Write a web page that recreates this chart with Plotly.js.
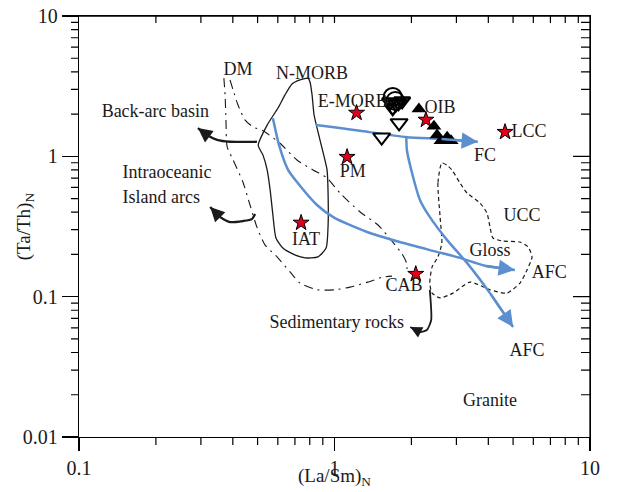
<!DOCTYPE html>
<html>
<head>
<meta charset="utf-8">
<script src="https://cdn.plot.ly/plotly-3.0.1.min.js"></script>
<style>html,body{margin:0;padding:0;background:#fff;}#chart{width:618px;height:492px;}#diag{position:absolute;left:90px;top:380px;font:9px monospace;color:#c00;white-space:pre;}</style>
</head>
<body>
<div id="chart"></div>
<div id="diag"></div>
<script>
// ---------- data ----------
const nmorbX = [0.787,0.733,0.682,0.640,0.601,0.545,0.503,0.525,0.545,0.560,0.574,0.590,0.628,0.689,0.767,0.861,0.927,0.944,0.944,0.935,0.877,0.832,0.817,0.802,0.787];
const nmorbY = [3.61,3.50,3.28,2.74,2.21,1.67,1.20,1.02,0.80,0.575,0.382,0.262,0.222,0.201,0.189,0.192,0.222,0.324,0.530,0.80,1.31,1.97,2.74,3.39,3.61];
const dmAX = [0.369,0.373,0.376,0.380,0.401,0.438,0.467,0.497,0.535,0.596,0.670,0.733,0.854,1.005,1.15,1.35,1.55,1.68];
const dmAY = [3.61,2.74,1.82,1.17,0.942,0.656,0.450,0.313,0.233,0.192,0.150,0.125,0.112,0.112,0.117,0.127,0.138,0.140];
const dmBX = [0.390,0.401,0.419,0.446,0.480,0.525,0.612,0.713,0.824,0.935,1.05,1.26,1.48,1.69,1.84,1.92,1.92];
const dmBY = [3.50,2.97,2.32,1.82,1.62,1.52,1.24,0.942,0.80,0.702,0.548,0.401,0.324,0.245,0.201,0.171,0.150];
const uccX = [2.63,2.54,2.59,2.63,2.54,2.41,2.36,2.41,2.59,2.91,3.39,4.06,4.73,5.32,5.67,5.93,5.72,5.32,4.56,4.17,4.06,3.95,3.71,3.30,3.10,2.88,2.75,2.63];
const uccY = [0.896,0.645,0.370,0.241,0.192,0.163,0.125,0.106,0.098,0.106,0.127,0.112,0.106,0.125,0.155,0.192,0.226,0.245,0.249,0.262,0.314,0.395,0.465,0.548,0.645,0.80,0.867,0.896];
const fcX = [0.846,1.05,1.26,1.92,2.59,3.64];
const fcY = [1.67,1.59,1.52,1.37,1.33,1.27];
const afc1X = [0.574,0.607,0.658,0.713,0.854,1.00,1.34,1.80,2.43,3.10,3.88,5.08];
const afc1Y = [1.87,1.20,0.80,0.656,0.450,0.364,0.289,0.245,0.212,0.189,0.166,0.155];
const afc2X = [1.91,1.92,2.03,2.16,2.36,2.76,3.30,4.06,5.00];
const afc2Y = [1.39,1.11,0.713,0.489,0.370,0.253,0.174,0.106,0.0608];
const backArcX = [0.497,0.390,0.347,0.317,0.292];
const backArcY = [1.27,1.27,1.31,1.42,1.59];
const arcX = [0.489,0.475,0.438,0.390,0.356,0.326];
const arcY = [0.388,0.357,0.346,0.340,0.370,0.435];
const sedX = [2.36,2.39,2.30,2.16,1.98];
const sedY = [0.112,0.0682,0.0579,0.0560,0.0608];
const starX = [1.22,2.28,4.65,1.12,0.740,2.08];
const starY = [2.04,1.82,1.49,0.989,0.336,0.145];
const triUpX = [2.14,2.45,2.52,2.76,2.61,2.86];
const triUpY = [2.17,1.64,1.42,1.37,1.29,1.29];
const triDownX = [1.79,1.53];
const triDownY = [1.73,1.37];
const circX = [1.69,1.73];
const circY = [2.65,2.48];
const triDownBlkX = [1.65,1.74,1.84,1.69,1.78];
const triDownBlkY = [2.44,2.36,2.48,2.21,2.40];
const labText = ['DM','N-MORB','E-MORB','OIB','LCC','FC','PM','Back-arc basin','IAT','UCC','Gloss','AFC','CAB','Sedimentary rocks','AFC','Granite'];
const labX = [0.419,0.817,1.18,2.59,5.77,3.88,1.18,0.199,0.774,5.42,4.06,6.92,1.87,1.02,5.67,4.06];
const labY = [4.12,3.86,2.40,2.21,1.49,1.00,0.773,2.04,0.253,0.375,0.211,0.147,0.119,0.0648,0.041,0.0178];
const leftText = ['Intraoceanic','Island arcs'];
const leftX = [0.148,0.148];
const leftY = [0.749,0.497];
const xTickVals = [0.1,1,10];
const xTickText = ['0.1','1','10'];
const yTickVals = [0.01,0.1,1,10];
const yTickText = ['0.01','0.1','1','10'];
const xTitle = '(La/Sm)<sub>N</sub>';
const yTitle = '(Ta/Th)<sub>N</sub>';

(function(){
  const diag = s => { document.getElementById('diag').textContent += s + '\n'; };
  window.addEventListener('error', e => diag('ERR ' + e.message));
  window.addEventListener('unhandledrejection', e => diag('REJ ' + (e.reason && e.reason.message ? e.reason.message : e.reason)));

  const SERIF = 'Liberation Serif, Times New Roman, serif';
  const BLUE = '#5b8fcf', INK = '#1a1a1a';
  const lg = Math.log10;
  const PW = 511, PH = 421;
  const minorList = (lo, hi) => { const o = []; for (let d = lo; d < hi; d++) for (let m = 2; m <= 9; m++) o.push(m * Math.pow(10, d)); return o; };
  const xMin = minorList(-1, 1), yMin = minorList(-2, 1);

  const data = [];
  const addLine = (x, y, color, width, dash) => data.push({x: x, y: y, mode: 'lines', showlegend: false,
    line: {color: color, width: width, dash: dash || 'solid', shape: 'spline', smoothing: 0.6}});
  addLine(nmorbX, nmorbY, INK, 1.3);
  addLine(dmAX, dmAY, INK, 1.1, '9px,5px,2px,5px');
  addLine(dmBX, dmBY, INK, 1.1, '9px,5px,2px,5px');
  addLine(uccX, uccY, INK, 1.2, '4px,3px');
  addLine(fcX, fcY, BLUE, 2.5);
  addLine(afc1X, afc1Y, BLUE, 2.5);
  addLine(afc2X, afc2Y, BLUE, 2.5);
  addLine(backArcX, backArcY, INK, 2.3);
  addLine(arcX, arcY, INK, 2.3);
  addLine(sedX, sedY, INK, 1.8);
  data.push({x: triUpX, y: triUpY, mode: 'markers', showlegend: false, marker: {symbol: 'triangle-up', size: 13, color: '#000'}});
  data.push({x: triDownX, y: triDownY, mode: 'markers', showlegend: false, marker: {symbol: 'triangle-down', size: 15, color: '#fff', line: {color: '#000', width: 2}}});
  data.push({x: triDownBlkX, y: triDownBlkY, mode: 'markers', showlegend: false, marker: {symbol: 'triangle-down-open', size: 14, color: '#000', line: {width: 2.5}}});
  data.push({x: circX, y: circY, mode: 'markers', showlegend: false, marker: {symbol: 'circle-open', size: 18, color: '#000', line: {width: 2}}});
  data.push({x: starX, y: starY, mode: 'markers', showlegend: false, marker: {symbol: 'star', size: 12, color: '#e0001b', line: {color: '#000', width: 1}}});
  data.push({x: labX, y: labY, text: labText, mode: 'text', showlegend: false, textposition: 'middle center', textfont: {family: SERIF, size: 18, color: INK}});
  data.push({x: leftX, y: leftY, text: leftText, mode: 'text', showlegend: false, textposition: 'middle right', textfont: {family: SERIF, size: 18, color: INK}});

  const fx = v => (lg(v) + 1) / 2, fy = v => (lg(v) + 2) / 3, r5 = n => n.toFixed(5);
  const paths = [
    xMin.map(v => 'M' + r5(fx(v)) + ',0V' + r5(-8 / PH)).join(''),
    xMin.concat([1]).map(v => 'M' + r5(fx(v)) + ',1V' + r5(1 - 7 / PH)).join(''),
    yMin.map(v => 'M0,' + r5(fy(v)) + 'H' + r5(-8 / PW)).join(''),
    yMin.map(v => 'M1,' + r5(fy(v)) + 'H' + r5(1 - 9 / PW)).join('') + [0.1, 1].map(v => 'M1,' + r5(fy(v)) + 'H' + r5(1 - 17 / PW)).join('')
  ];
  const shp = paths.map(p => ({type: 'path', xref: 'paper', yref: 'paper', path: p, line: {color: '#000', width: 1.2}}));
  shp.push({type: 'line', xref: 'paper', yref: 'paper', x0: 0, x1: 1, y0: 1, y1: 1, line: {color: '#000', width: 1.3}});
  shp.push({type: 'line', xref: 'paper', yref: 'paper', x0: 1, x1: 1, y0: 0, y1: 1, line: {color: '#000', width: 1.3}});

  const arrowAt = (x, y, color, width) => { const n = x.length;
    return {x: lg(x[n-1]), y: lg(y[n-1]), ax: lg(x[n-2]), ay: lg(y[n-2]), axref: 'x', ayref: 'y', xref: 'x', yref: 'y',
      text: '', showarrow: true, arrowhead: 2, arrowsize: 1.3, arrowwidth: width, arrowcolor: color, standoff: 0}; };
  const ann = [
    arrowAt(fcX, fcY, BLUE, 2.5), arrowAt(afc1X, afc1Y, BLUE, 2.5), arrowAt(afc2X, afc2Y, BLUE, 2.5),
    arrowAt(backArcX, backArcY, INK, 2.2), arrowAt(arcX, arcY, INK, 2.2), arrowAt(sedX, sedY, INK, 1.8),
    {xref: 'paper', yref: 'paper', x: 0.5, y: -0.128, xanchor: 'center', yanchor: 'bottom', showarrow: false, text: xTitle, font: {family: SERIF, size: 19, color: INK}},
    {xref: 'paper', yref: 'paper', x: -0.106, y: 0.5, xanchor: 'center', yanchor: 'middle', showarrow: false, textangle: -90, text: yTitle, font: {family: SERIF, size: 19, color: INK}}
  ];

  const lay = {
    width: 618, height: 492, margin: {l: 79, r: 28, t: 16, b: 55},
    paper_bgcolor: '#fff', plot_bgcolor: '#fff', showlegend: false, font: {family: SERIF, color: INK},
    xaxis: {type: 'log', range: [-1, 1], showgrid: false, zeroline: false, showline: true, mirror: true, linecolor: '#000', linewidth: 1.3,
      ticks: 'outside', ticklen: 13, tickwidth: 1.3, tickcolor: '#000', tickmode: 'array', tickvals: xTickVals, ticktext: xTickText,
      tickfont: {family: SERIF, size: 20, color: INK}},
    yaxis: {type: 'log', range: [-2, 1], showgrid: false, zeroline: false, showline: true, mirror: true, linecolor: '#000', linewidth: 1.3,
      ticks: 'outside', ticklen: 16, tickwidth: 1.3, tickcolor: '#000', tickmode: 'array', tickvals: yTickVals, ticktext: yTickText,
      tickfont: {family: SERIF, size: 20, color: INK}},
    shapes: shp, annotations: ann
  };
  try {
    Plotly.newPlot('chart', data, lay, {staticPlot: true, displayModeBar: false}).then(gd => {
      const xl = document.querySelector('path.xlines-above');
      const d = xl ? xl.getAttribute('d') : 'none';
      const nShapes = document.querySelectorAll('.shapelayer path').length;
      if ((d.match(/M/g) || []).length < 2 || nShapes < 6) {
        diag('v' + Plotly.version + ' mirror=' + gd._fullLayout.xaxis.mirror + ' tf=' + gd._fullLayout.xaxis.tickfont.size +
          ' shapesFL=' + gd._fullLayout.shapes.length + ' dom=' + nShapes + '\nxl=' + d);
      }
    }).catch(e => diag('CATCH ' + e));
  } catch (e) { diag('THROW ' + e.message); }
})();
</script>
</body>
</html>
